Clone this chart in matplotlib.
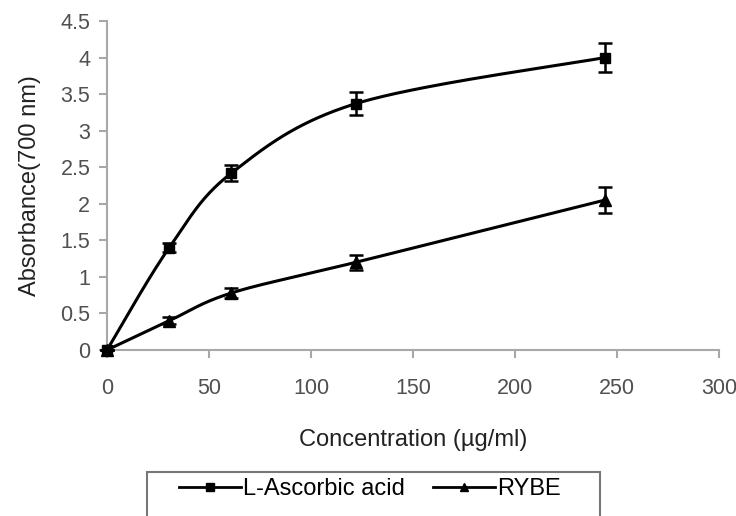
import numpy as np
import matplotlib
matplotlib.use("Agg")
import matplotlib.pyplot as plt
from matplotlib.patches import Rectangle

plt.rcParams['font.family'] = ['Liberation Sans', 'DejaVu Sans']

# Data
conc = [0, 30.5, 61, 122, 244]
ascorbic = [0, 1.40, 2.42, 3.37, 4.00]
ascorbic_err = [0, 0.06, 0.11, 0.16, 0.20]
rybe = [0, 0.40, 0.78, 1.20, 2.05]
rybe_err = [0, 0.05, 0.07, 0.10, 0.18]


def smooth(x, y, n=40):
    # Catmull-Rom through the points, like Excel's smoothed line
    x = np.asarray(x, float)
    y = np.asarray(y, float)
    px = np.concatenate([[x[0]], x, [x[-1]]])
    py = np.concatenate([[y[0]], y, [y[-1]]])
    xs, ys = [], []
    t = np.linspace(0, 1, n)
    for i in range(1, len(px) - 2):
        for p, out in ((px, xs), (py, ys)):
            p0, p1, p2, p3 = p[i - 1], p[i], p[i + 1], p[i + 2]
            out.extend(0.5 * ((2 * p1) + (-p0 + p2) * t
                              + (2 * p0 - 5 * p1 + 4 * p2 - p3) * t ** 2
                              + (-p0 + 3 * p1 - 3 * p2 + p3) * t ** 3))
    return xs, ys


fig = plt.figure(figsize=(7.36, 5.16), dpi=100)
ax = fig.add_axes([107 / 736, 1 - 350 / 516, (719 - 107) / 736, (350 - 21) / 516])

grey = '#a8a8a8'
tick_col = '#505050'

for y, err, mk, ms, lab in ((ascorbic, ascorbic_err, 's', 7.5, 'L-Ascorbic acid'),
                            (rybe, rybe_err, '^', 8.5, 'RYBE')):
    sx, sy = smooth(conc, y)
    ax.plot(sx, sy, color='black', lw=2.2, zorder=2)
    ax.errorbar(conc, y, yerr=err, fmt='none', ecolor='black', elinewidth=1.8,
                capsize=5, capthick=1.8, zorder=3)
    ax.plot(conc, y, linestyle='none', marker=mk, ms=ms, color='black', zorder=4)
    ax.plot([], [], color='black', lw=2, marker=mk, ms=ms * 0.7, label=lab)

ax.set_xlim(0, 300)
ax.set_ylim(0, 4.5)
ax.set_xticks(np.arange(0, 301, 50))
ax.set_yticks(np.arange(0, 4.51, 0.5))
ax.set_yticklabels(['0', '0.5', '1', '1.5', '2', '2.5', '3', '3.5', '4', '4.5'])
ax.spines['top'].set_visible(False)
ax.spines['right'].set_visible(False)
for s in ('left', 'bottom'):
    ax.spines[s].set_color(grey)
    ax.spines[s].set_linewidth(1.5)
ax.tick_params(axis='both', colors=grey, width=1.5, length=6, labelsize=15.5,
               labelcolor=tick_col)
ax.tick_params(axis='x', pad=14)
ax.tick_params(axis='y', pad=6)
for artist in ax.get_children():
    artist.set_clip_on(False)

ax.set_xlabel('Concentration (µg/ml)', fontsize=17, color='#222222', labelpad=22)
ax.set_ylabel('Absorbance(700 nm)', fontsize=17, color='#222222', labelpad=14)

fig.add_artist(Rectangle((147 / 736, -0.05), (600 - 147) / 736, 0.05 + 44 / 516,
                         transform=fig.transFigure, fill=False,
                         edgecolor='#777777', lw=1.5))
fig.legend(loc='center left', bbox_to_anchor=(170 / 736, 1 - 489 / 516), ncol=2,
           frameon=False, fontsize=17, handlelength=2.6, columnspacing=1.2,
           handletextpad=0.1, borderaxespad=0)

fig.savefig('out.png', dpi=100)
